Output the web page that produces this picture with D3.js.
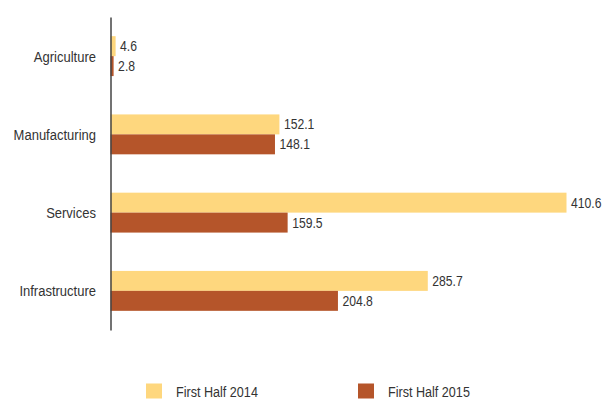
<!DOCTYPE html>
<html>
<head>
<meta charset="utf-8">
<script src="https://cdn.jsdelivr.net/npm/d3@7/dist/d3.min.js"></script>
<style>
  html, body { margin: 0; padding: 0; background: #fff; }
  svg { display: block; }
  text { font-family: "Liberation Sans", Arial, sans-serif; fill: #333; }
</style>
</head>
<body>
<div id="chart"></div>
<script>
// Sector values for the two periods
const categories = ["Agriculture", "Manufacturing", "Services", "Infrastructure"];
const seriesNames = ["First Half 2014", "First Half 2015"];
const values2014 = [4.6, 152.1, 410.6, 285.7];
const values2015 = [2.8, 148.1, 159.5, 204.8];
const seriesColors = ["#FED77E", "#B5552A"];

const width = 604, height = 399;
const axisX = 110.5;
const squeeze = 0.84; // condensed lettering

const svg = d3.select("#chart").append("svg")
  .attr("width", width).attr("height", height);

const y = d3.scaleBand()
  .domain(categories)
  .range([17, 330])
  .paddingInner(0.49)
  .paddingOuter(0.245);

const ySeries = d3.scaleBand()
  .domain(seriesNames)
  .range([0, y.bandwidth()]);

const x = d3.scaleLinear()
  .domain([0, 410.6])
  .range([axisX, 566.5]);

const rows = categories.map((c, i) => ({
  category: c,
  values: [values2014[i], values2015[i]]
}));

const groups = svg.append("g").selectAll("g")
  .data(rows)
  .join("g")
  .attr("transform", d => `translate(0,${y(d.category)})`);

const bars = groups.selectAll("g.bar")
  .data(d => d.values.map((v, k) => ({ series: seriesNames[k], value: v, k })))
  .join("g").attr("class", "bar");

bars.append("rect")
  .attr("x", x(0))
  .attr("y", d => ySeries(d.series))
  .attr("width", d => x(d.value) - x(0))
  .attr("height", ySeries.bandwidth())
  .attr("fill", d => seriesColors[d.k]);

bars.append("text")
  .attr("transform", d => `translate(${x(d.value) + 4.5},${ySeries(d.series) + ySeries.bandwidth() / 2}) scale(${squeeze},1)`)
  .attr("dy", "0.35em")
  .attr("font-size", 14.5)
  .text(d => d.value.toFixed(1));

// Category axis: the line comes from d3.axisLeft, labels are drawn condensed
const yAxis = svg.append("g")
  .attr("transform", `translate(${axisX},0)`)
  .call(d3.axisLeft(y).tickSize(0).tickFormat(""));
yAxis.select(".domain").attr("stroke", "#444").attr("stroke-width", 1.5);
yAxis.selectAll(".tick").remove();

svg.append("g").selectAll("text")
  .data(categories)
  .join("text")
  .attr("transform", d => `translate(96,${y(d) + y.bandwidth() / 2}) scale(${squeeze},1)`)
  .attr("dy", "0.35em")
  .attr("text-anchor", "end")
  .attr("font-size", 15.5)
  .text(d => d);

// Legend
const legendX = [146, 358];
const legend = svg.append("g").selectAll("g")
  .data(seriesNames)
  .join("g")
  .attr("transform", (d, i) => `translate(${legendX[i]},383.5)`);
legend.append("rect")
  .attr("width", 16).attr("height", 15)
  .attr("fill", (d, i) => seriesColors[i]);
legend.append("text")
  .attr("transform", `translate(30,13.5) scale(${squeeze},1)`)
  .attr("font-size", 15)
  .text(d => d);
</script>
</body>
</html>
